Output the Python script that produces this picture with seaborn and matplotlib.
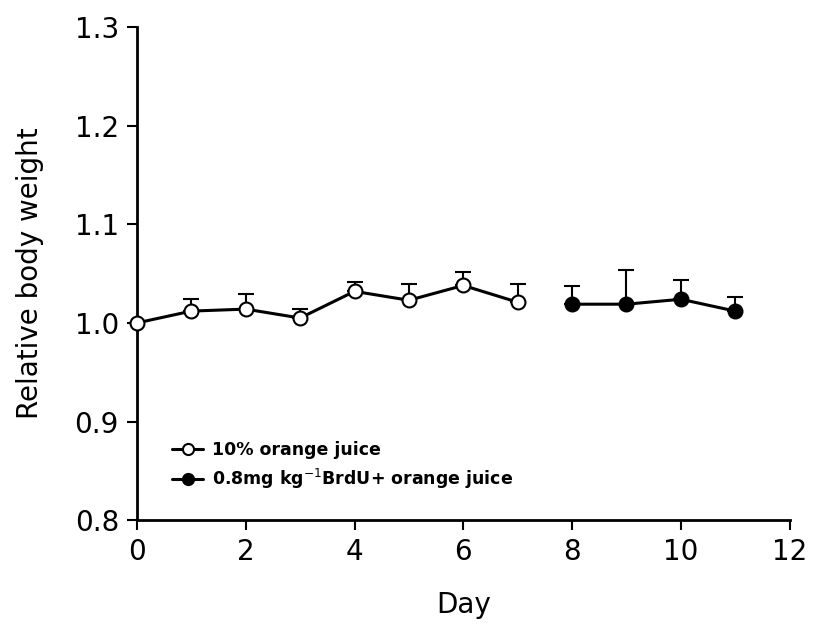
import numpy as np
import pandas as pd
import matplotlib
matplotlib.use("Agg")
import matplotlib.pyplot as plt
import seaborn as sns

# readings from the figure
juice_days = [0, 1, 2, 3, 4, 5, 6, 7]
juice_weight = [1.000, 1.012, 1.014, 1.005, 1.032, 1.023, 1.038, 1.021]
juice_err = [0.000, 0.012, 0.015, 0.009, 0.009, 0.016, 0.014, 0.018]

brdu_days = [8, 9, 10, 11]
brdu_weight = [1.019, 1.019, 1.024, 1.012]
brdu_err = [0.018, 0.035, 0.020, 0.014]

juice_label = "10% orange juice"
brdu_label = "0.8mg kg$^{-1}$BrdU+ orange juice"

sns.set_style("ticks")
plt.rcParams['font.family'] = ['DejaVu Sans']
plt.rcParams['text.color'] = 'black'
plt.rcParams['axes.labelcolor'] = 'black'
plt.rcParams['xtick.color'] = 'black'
plt.rcParams['ytick.color'] = 'black'
plt.rcParams['axes.edgecolor'] = 'black'

fig = plt.figure(figsize=(8.2, 6.29), dpi=100)
ax = fig.add_axes([0.167, 0.173, 0.796, 0.784])

df_juice = pd.DataFrame({"day": juice_days, "weight": juice_weight})
df_brdu = pd.DataFrame({"day": brdu_days, "weight": brdu_weight})

# upward-only error bars drawn first so markers sit on top
ax.errorbar(juice_days, juice_weight, yerr=[np.zeros(len(juice_err)), juice_err],
            fmt="none", ecolor="black", elinewidth=1.5, capsize=6, capthick=1.5, zorder=1)
ax.errorbar(brdu_days, brdu_weight, yerr=[np.zeros(len(brdu_err)), brdu_err],
            fmt="none", ecolor="black", elinewidth=1.5, capsize=6, capthick=1.5, zorder=1)

sns.lineplot(data=df_juice, x="day", y="weight", ax=ax, color="black", linewidth=2.2,
             marker="o", markersize=10, markerfacecolor="white", markeredgecolor="black",
             markeredgewidth=1.5, label=juice_label, zorder=3, clip_on=False)
sns.lineplot(data=df_brdu, x="day", y="weight", ax=ax, color="black", linewidth=2.2,
             marker="o", markersize=10, markerfacecolor="black", markeredgecolor="black",
             markeredgewidth=1.5, label=brdu_label, zorder=3, clip_on=False)

ax.set_xlim(0, 12)
ax.set_ylim(0.8, 1.3)
ax.set_xticks(range(0, 13, 2))
ax.set_yticks(np.arange(0.8, 1.31, 0.1))
ax.yaxis.set_major_formatter(matplotlib.ticker.FormatStrFormatter("%.1f"))
ax.set_xlabel("Day", fontsize=20, labelpad=18)
ax.set_ylabel("Relative body weight", fontsize=20, labelpad=22)
ax.tick_params(axis="both", labelsize=20, width=1.5, length=7, direction="out", pad=6)
for side in ["left", "bottom"]:
    ax.spines[side].set_linewidth(2)
sns.despine(ax=ax)

leg = ax.legend(loc="lower left", bbox_to_anchor=(0.035, 0.035), frameon=False,
                prop={"weight": "bold", "size": 12.5}, handlelength=1.8,
                handletextpad=0.5, labelspacing=0.45, borderpad=0.2)
for h in leg.legend_handles:
    h.set_markersize(8)

fig.savefig("out.png", dpi=100)
